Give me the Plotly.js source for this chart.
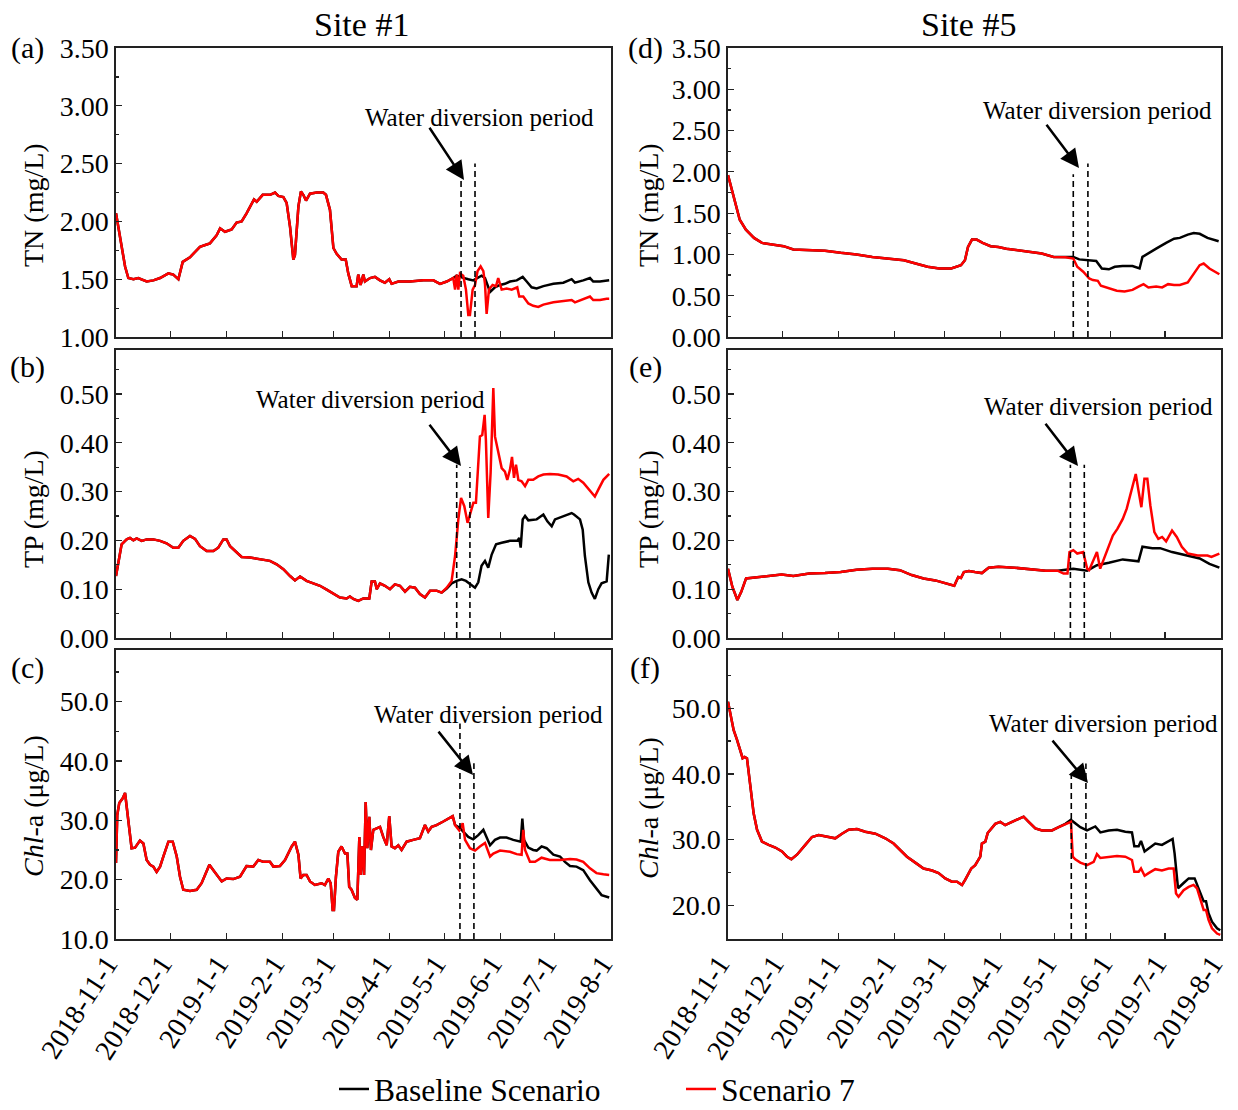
<!DOCTYPE html>
<html>
<head>
<meta charset="utf-8">
<script src="https://cdn.plot.ly/plotly-3.0.1.min.js"></script>
<style>
  html, body { margin: 0; padding: 0; background: #fff; }
  #chart { width: 1238px; height: 1110px; }
</style>
</head>
<body>
<div id="chart"></div>
<script>
// ---------------- DATA (day = days since 2018-11-01) ----------------
const START = Date.UTC(2018, 10, 1);
const monthTickDays = [0, 30, 61, 92, 120, 151, 181, 212, 242, 273];
const monthTickLabels = ['2018-11-1','2018-12-1','2019-1-1','2019-2-1','2019-3-1','2019-4-1','2019-5-1','2019-6-1','2019-7-1','2019-8-1'];

// (a) Site #1 TN
const tn1Day = [0,1.3,3.1,5,6.8,9.6,12.3,16.9,20.6,24.3,28.9,31.6,34.4,36.8,40.8,46.3,50,51.8,55.5,57.4,60.1,63.8,66.5,69.3,72,76.1,77.6,80.9,85,87.7,89.5,92.3,94.1,96,97.8,98.7,100.6,102,103.3,104.8,107,110.7,114.3,115.8,118,119.9,121.7,124.4,126.7,128.1,130,132.7,133.6,134.9,136.4,137.3,140.1,142.8,145.6,148.3,150.7,152,155.7,162.1,169.5,175,178.7,182.4,186,187,187.9,188.8,189.7,191.5,193,194.3,195.2,196.7,198,199.4,201.1,202.6,203.5,204.4,205.7,207.7,209.6,210.8,212.7,215.4,218.2,220,221.3,222.4,224.6,227.4,230.1,232.9,235.7,241.2,246.7,251.3,253.1,257.7,261.4,263.2,266.9,270.6,272];
const tn1S7 = [2.07,1.95,1.75,1.61,1.51,1.50,1.51,1.48,1.49,1.51,1.55,1.54,1.50,1.65,1.69,1.78,1.80,1.81,1.88,1.94,1.91,1.93,1.99,2.00,2.07,2.19,2.17,2.23,2.23,2.25,2.22,2.21,2.16,1.95,1.67,1.71,2.13,2.26,2.23,2.18,2.24,2.25,2.25,2.23,2.10,1.77,1.72,1.67,1.67,1.55,1.44,1.44,1.54,1.45,1.54,1.48,1.51,1.52,1.49,1.47,1.50,1.46,1.48,1.48,1.49,1.49,1.46,1.48,1.51,1.41,1.54,1.41,1.55,1.53,1.41,1.19,1.19,1.41,1.45,1.57,1.61,1.57,1.46,1.20,1.41,1.45,1.44,1.51,1.41,1.42,1.41,1.42,1.43,1.35,1.35,1.29,1.27,1.26,1.28,1.30,1.31,1.32,1.30,1.33,1.35,1.32,1.32,1.33,1.33];
const tn1Split = 186;
const tn1BaseDay = [187.9,189.7,191.5,194.3,197,199.8,201.6,203.5,206.3,209,211.8,214.5,217.3,221,224.3,226.5,229.2,232,235.7,241.2,246.7,251.3,253.1,257.7,261.4,263.2,266.9,272];
const tn1Base = [1.53,1.52,1.51,1.50,1.49,1.51,1.53,1.51,1.39,1.43,1.45,1.46,1.48,1.49,1.52,1.48,1.43,1.42,1.44,1.46,1.47,1.50,1.47,1.49,1.51,1.48,1.48,1.49];

// (b) Site #1 TP
const tp1Day = [0,1.3,3.1,5.9,7.7,9.6,11.4,14.2,16.9,20.6,24.3,27.9,31.6,34.4,37.1,40.8,43.6,46.3,50,53.7,56.4,59.2,61,62.9,65.6,69.3,73.9,77.6,81.3,84.9,88.6,92.3,96,98.7,101.5,105.1,108.8,112.5,116.2,119.9,123.5,127.2,129,130.9,133.6,136.4,139.7,141,142.8,143.8,145.6,148.3,151.1,153.8,156.6,159.4,162.1,164.9,167.6,170.4,173.2,176.8,179.6,182.4,185.1,187,188.8,190.3,192.1,193.9,195.8,197.1,198.5,199.4,200.7,202,203.3,204,205.3,206.6,208.1,209,210.8,212.7,214.5,215.8,217.3,218.4,219.5,220.6,221.9,223.7,225.6,227.4,230.1,232.9,235.7,239.3,243.9,248.5,252.2,254.9,257.7,261.4,264.1,266,268.8,272];
const tp1S7 = [0.127,0.158,0.192,0.202,0.205,0.200,0.204,0.199,0.202,0.202,0.199,0.194,0.185,0.185,0.199,0.209,0.203,0.188,0.178,0.178,0.185,0.202,0.202,0.188,0.178,0.166,0.165,0.163,0.161,0.158,0.151,0.141,0.127,0.118,0.126,0.117,0.112,0.107,0.099,0.090,0.083,0.081,0.085,0.080,0.076,0.081,0.081,0.116,0.116,0.100,0.112,0.107,0.100,0.110,0.107,0.095,0.105,0.103,0.090,0.083,0.097,0.097,0.093,0.103,0.117,0.168,0.243,0.287,0.270,0.236,0.260,0.277,0.277,0.338,0.413,0.416,0.457,0.406,0.246,0.338,0.512,0.413,0.382,0.348,0.341,0.324,0.345,0.371,0.328,0.355,0.324,0.321,0.311,0.324,0.324,0.331,0.335,0.336,0.335,0.331,0.321,0.326,0.318,0.301,0.290,0.304,0.324,0.336];
const tp1Split = 179.6;
const tp1BaseDay = [182.4,185.1,187.9,190.6,193,195.2,198,199.8,201.6,203.5,205.3,207.2,209.6,212.7,217.3,221.3,222.4,223.2,224.3,225.6,227.4,232,235.7,237.9,240.3,242.1,246.7,251.3,252.6,255.9,257.4,258.6,260.5,262.3,264.1,266,267.8,270.6,271.8];
const tp1Base = [0.101,0.112,0.117,0.120,0.117,0.110,0.103,0.114,0.148,0.158,0.144,0.171,0.192,0.195,0.199,0.199,0.205,0.185,0.243,0.250,0.241,0.243,0.253,0.239,0.229,0.243,0.250,0.256,0.253,0.243,0.222,0.168,0.114,0.093,0.080,0.100,0.112,0.116,0.171];

// (c) Site #1 Chl-a
const chl1Day = [0,0.7,1.8,3.7,5,6.8,8.6,10.5,13.2,15.1,16.9,18.8,20.6,22.4,24.3,26.1,28.9,31.3,33.5,35.3,37.1,40.8,44.5,47.2,50,51.5,53.7,55.5,58.3,61,64.7,68.4,72,75.7,78.5,81.3,84.9,86.8,90.4,93.2,96.9,98.7,100.6,101.8,103.3,105.1,107,109.7,113.4,115.2,117.1,118.4,119.5,120.2,121.3,122.6,124.4,126.3,127.6,128.6,129.9,131.8,133.1,134.2,134.9,135.8,136.8,137.7,138.6,139.7,140.6,141.9,143.8,145.6,147.4,149.3,150.7,152,153.8,155.7,157.5,160.3,163.9,167.6,170.4,172.2,174.1,176.8,180.5,183.3,185.7,187,189.3,191.2,192.5,195.2,198,200.7,203.5,206.3,208.1,211.8,217.3,221,223.7,224.6,225.6,228.3,231.1,234.7,239.3,244.9,250.4,254,257.7,261.4,265,268.8,272];
const chl1S7 = [22.8,30.9,32.9,33.7,34.6,30.1,25.3,25.4,26.6,26.1,23.3,22.5,22.2,21.3,22.2,23.9,26.4,26.4,23.9,20.5,18.3,18.1,18.3,19.4,21.6,22.5,21.6,20.8,19.7,20.2,20.1,20.5,22.3,22.2,23.3,23.0,23.0,22.2,22.3,23.3,25.6,26.4,24.2,20.2,20.8,20.8,19.7,19.1,19.4,19.1,20.2,19.4,14.9,14.9,20.5,24.7,25.6,24.4,24.4,18.8,18.3,16.9,16.6,27.2,20.8,25.6,20.8,33.1,25.3,30.6,25.0,28.4,28.7,28.9,27.2,25.8,30.7,25.6,25.3,25.8,25.0,26.4,26.7,27.0,29.2,28.1,28.9,29.2,29.8,30.3,30.7,29.2,28.3,29.5,26.7,25.3,24.9,25.6,26.2,23.9,24.4,24.9,24.7,24.3,24.2,28.4,25.0,23.0,23.0,23.7,23.3,23.3,23.5,23.4,23.0,21.9,21.1,20.9,20.8];
const chl1Split = 187;
const chl1BaseDay = [189.7,191.5,194.3,197,199.8,202.6,204.4,206.3,209,211.8,215.4,219.1,223.2,224.1,225,227.4,230.1,232,234.7,237.5,241.2,244.9,247.6,250.4,254,257.7,261.4,265,267.8,272];
const chl1Base = [28.7,28.1,27.2,26.8,27.5,28.4,27.2,25.8,26.7,27.1,27.1,26.7,26.4,30.3,26.7,25.4,25.0,24.9,25.6,25.3,24.2,23.9,23.0,22.3,22.2,21.6,19.9,18.5,17.4,17.0];

// (d) Site #5 TN
const tn5Day = [0,3.3,6.5,9.9,14.4,18.8,25.3,30.8,36.2,45,53.7,62.4,71.2,79.9,88.6,97.4,103.9,110.5,117,123.6,129,131.2,132.9,135.1,137.7,141,145.4,149.7,154.1,160.6,167.2,173.7,180.3,186.8,191.2,193.4,196.7,200,202.1,204.8,206.5,210.9,215.3,219.6,224,227.3,230.1,232.8,237.1,240.4,243.7,247,250.2,254.6,257.9,261.2,263.4,266.6,272.1];
const tn5S7 = [1.96,1.70,1.42,1.30,1.20,1.14,1.12,1.10,1.06,1.05,1.045,1.02,1.00,0.97,0.95,0.93,0.89,0.85,0.83,0.83,0.87,0.93,1.09,1.18,1.18,1.14,1.10,1.09,1.07,1.05,1.03,1.01,0.97,0.965,0.95,0.85,0.79,0.71,0.69,0.68,0.62,0.59,0.56,0.55,0.57,0.61,0.64,0.60,0.61,0.60,0.64,0.63,0.63,0.66,0.77,0.87,0.89,0.83,0.76];
const tn5Split = 186.8;
const tn5BaseDay = [191.2,194.5,200,203.9,207,210.9,214.2,218.5,224,227.9,229.5,232.8,237.1,242.6,247,250.2,254.6,257.9,261.2,265.5,271.7];
const tn5Base = [0.97,0.94,0.93,0.92,0.83,0.82,0.85,0.86,0.86,0.83,0.97,1.01,1.07,1.14,1.19,1.20,1.24,1.26,1.25,1.20,1.16];

// (e) Site #5 TP
const tp5Day = [0,2.4,5.2,7.4,10,16.6,23.1,29.7,36.2,45,53.7,62.4,71.2,79.9,88.6,95.2,101.7,108.3,114.8,121.4,125.3,127.5,129,130.6,133.4,136.7,140.6,144.3,149.8,158.5,167.2,176,182.5,185.8,188,189.1,191.2,193.4,196.7,198.9,200,202.1,204.3,206.1,208.3,210.9,213.1,215.7,218.6,220.8,223,225.8,227.3,228.9,230.6,232.2,233.9,236.1,238.3,240.4,242.6,245.9,248.5,251.3,254.6,260.1,265.5,267.7,272.1];
const tp5S7 = [0.142,0.105,0.078,0.095,0.122,0.125,0.127,0.130,0.127,0.132,0.133,0.135,0.140,0.142,0.142,0.139,0.129,0.122,0.118,0.112,0.107,0.125,0.123,0.135,0.137,0.135,0.133,0.144,0.146,0.144,0.141,0.138,0.138,0.132,0.132,0.176,0.180,0.173,0.176,0.142,0.139,0.156,0.176,0.142,0.163,0.190,0.210,0.224,0.244,0.265,0.299,0.336,0.302,0.268,0.326,0.326,0.271,0.217,0.203,0.207,0.198,0.220,0.207,0.187,0.173,0.169,0.169,0.166,0.173];
const tp5Split = 182.5;
const tp5BaseDay = [185.8,191.2,198.9,204.3,210.9,218.6,227.3,229.5,235,239.3,245.9,254.6,261.2,266.6,272.1];
const tp5Base = [0.140,0.142,0.138,0.149,0.154,0.161,0.157,0.187,0.184,0.184,0.176,0.169,0.163,0.152,0.144];

// (f) Site #5 Chl-a
const chl5Day = [0,1.3,3.1,5,6.8,8.1,9.2,10.5,12.4,14.2,16.1,18.8,22.5,26.2,29.9,32.7,35.1,38.2,42.8,46.5,50.2,54.8,59.4,63.1,66.8,71.4,76,81.6,87.1,91.7,95.4,99.1,103.7,108.3,113,116.6,120.3,124,126.8,129.6,131.4,132.3,133.6,134.7,136.9,138.4,139.7,140.6,142.5,143.8,145.3,148,150.8,153.5,157.3,161,163.7,166.5,170.2,173.9,179.4,183.1,186.8,189.9,190.9,192.3,195.1,198.8,202.5,204.3,206.2,210.8,215.4,220,223.7,225,227.4,228.7,230.7,232.9,236.6,240.3,244,246.8,248.1,249.5,252.3,255.1,257.8,259.7,261.5,263.4,264.7,266.1,268,270.8,272.6];
const chl5S7 = [51.0,49.2,46.7,45.2,43.7,42.4,42.6,42.4,38.1,34.0,31.5,29.7,29.2,28.8,28.2,27.4,27.0,27.7,29.2,30.4,30.7,30.5,30.2,30.9,31.5,31.6,31.2,30.9,30.2,29.4,28.4,27.4,26.5,25.6,25.3,24.9,24.1,23.6,23.6,23.1,23.9,24.4,24.9,25.6,26.1,26.9,27.4,29.4,29.7,31.0,31.5,32.4,32.7,32.2,32.7,33.2,33.5,32.7,31.7,31.4,31.4,31.9,32.4,32.7,27.4,27.0,26.5,26.1,26.6,27.8,27.2,27.4,27.5,27.4,26.9,25.1,25.1,25.6,24.5,24.9,25.5,25.3,25.6,25.6,21.8,21.3,22.3,22.8,23.1,22.6,21.1,19.3,19.3,17.8,16.5,15.7,15.5];
const chl5Split = 186.8;
const chl5BaseDay = [189.9,192.3,195.1,198.8,201.6,203.4,206.2,210.8,215.4,220,223.7,225,227.4,228.7,230.7,232.9,236.6,240.3,244,246.2,247.3,249.2,252.3,255.1,258.4,260.6,263.4,264.7,266.1,268,270.8,272.6];
const chl5Base = [33.0,32.5,31.9,31.4,31.7,32.0,31.1,31.4,31.5,31.2,31.1,29.0,29.0,29.8,28.2,28.7,29.4,29.2,29.7,30.1,27.9,22.6,23.4,24.1,24.1,22.6,20.6,20.6,18.8,17.5,16.5,16.2];

// Water diversion markers: [day, top value] for the two dashed lines of each panel
const diversionA = [[190.3, 2.37], [198.0, 2.50]];
const diversionB = [[187.9, 0.355], [195.2, 0.35]];
const diversionC = [[189.7, 46.3], [197.4, 39.6]];
const diversionD = [[191.2, 1.97], [199.3, 2.10]];
const diversionE = [[189.6, 0.355], [197.3, 0.355]];
const diversionF = [[190.1, 40.1], [198.2, 41.6]];

// ---------------- HELPERS ----------------
function pad(n) { return (n < 10 ? '0' : '') + n; }
function dayToDate(d) {
  const dt = new Date(START + d * 86400000);
  return dt.getUTCFullYear() + '-' + pad(dt.getUTCMonth() + 1) + '-' + pad(dt.getUTCDate()) +
         ' ' + pad(dt.getUTCHours()) + ':' + pad(dt.getUTCMinutes());
}
const W = 1238, H = 1110;
const FONT = 'Liberation Serif, Times New Roman, serif';
const px = x => x / W;
const py = y => 1 - y / H;

const panels = [
  {id: '',  day: tn1Day,  s7: tn1S7,  split: tn1Split,  bDay: tn1BaseDay,  base: tn1Base,  div: diversionA},
  {id: '2', day: tp1Day,  s7: tp1S7,  split: tp1Split,  bDay: tp1BaseDay,  base: tp1Base,  div: diversionB},
  {id: '3', day: chl1Day, s7: chl1S7, split: chl1Split, bDay: chl1BaseDay, base: chl1Base, div: diversionC},
  {id: '4', day: tn5Day,  s7: tn5S7,  split: tn5Split,  bDay: tn5BaseDay,  base: tn5Base,  div: diversionD},
  {id: '5', day: tp5Day,  s7: tp5S7,  split: tp5Split,  bDay: tp5BaseDay,  base: tp5Base,  div: diversionE},
  {id: '6', day: chl5Day, s7: chl5S7, split: chl5Split, bDay: chl5BaseDay, base: chl5Base, div: diversionF}
];

const yRanges = [[1, 3.5], [0, 0.59], [10, 58.7], [0, 3.5], [0, 0.59], [14.87, 58.87]];
const yDticks = [0.5, 0.1, 10, 0.5, 0.1, 10];
const yMinor = [0.25, 0.05, 5, 0.25, 0.05, 5];
const yFormats = ['.2f', '.2f', '.1f', '.2f', '.2f', '.1f'];

const colX = [[116 / W, 611 / W], [728 / W, 1221 / W]];
const rowY = [[py(337), py(48)], [py(638), py(350)], [py(939), py(650)]];

const traces = [];
const layout = {
  width: W, height: H,
  margin: {l: 0, r: 0, t: 0, b: 0, autoexpand: false},
  paper_bgcolor: '#fff', plot_bgcolor: '#fff',
  font: {family: FONT, color: '#000'},
  showlegend: true,
  legend: {x: px(334), xanchor: 'left', y: py(1089), yanchor: 'middle', orientation: 'h',
           font: {family: FONT, size: 31.5, color: '#000'}, bgcolor: 'rgba(0,0,0,0)', borderwidth: 0},
  legend2: {x: px(681), xanchor: 'left', y: py(1089), yanchor: 'middle', orientation: 'h',
            font: {family: FONT, size: 31.5, color: '#000'}, bgcolor: 'rgba(0,0,0,0)', borderwidth: 0},
  shapes: [], annotations: []
};

panels.forEach((p, i) => {
  const xa = 'x' + p.id, ya = 'y' + p.id;
  const col = i < 3 ? 0 : 1, row = i % 3;
  // baseline = shared part + divergent part
  const bx = [], by = [];
  p.day.forEach((d, k) => { if (d <= p.split) { bx.push(d); by.push(p.s7[k]); } });
  p.bDay.forEach((d, k) => { bx.push(d); by.push(p.base[k]); });
  traces.push({
    type: 'scatter', mode: 'lines', name: 'Baseline Scenario',
    x: bx.map(dayToDate), y: by, xaxis: xa, yaxis: ya,
    line: {color: '#000', width: 2.5}, showlegend: i === 0, legend: 'legend'
  });
  traces.push({
    type: 'scatter', mode: 'lines', name: 'Scenario 7',
    x: p.day.map(dayToDate), y: p.s7, xaxis: xa, yaxis: ya,
    line: {color: '#ff0000', width: 2.5}, showlegend: i === 0, legend: 'legend2'
  });

  const xKey = 'xaxis' + p.id, yKey = 'yaxis' + p.id;
  layout[xKey] = {
    type: 'date', domain: colX[col], anchor: ya,
    range: [dayToDate(0), dayToDate(273)],
    tickvals: monthTickDays.map(dayToDate), ticktext: monthTickLabels,
    showticklabels: row === 2, tickangle: -57,
    ticklabelshift: -9, ticklabelstandoff: -4,
    tickfont: {family: FONT, size: 28, color: '#000'},
    ticks: 'inside', ticklen: 6, tickwidth: 1.2, tickcolor: '#222',
    showline: true, linecolor: '#222', linewidth: 1.6, mirror: true,
    showgrid: false, zeroline: false
  };
  layout[yKey] = {
    domain: rowY[row], anchor: xa,
    range: yRanges[i], dtick: yDticks[i], tick0: 0, tickformat: yFormats[i],
    tickfont: {family: FONT, size: 28, color: '#000'},
    ticks: 'inside', ticklen: 6, tickwidth: 1.2, tickcolor: '#222',
    minor: {dtick: yMinor[i], ticks: 'inside', ticklen: 3, tickwidth: 1.2, tickcolor: '#222'},
    showline: true, linecolor: '#222', linewidth: 1.6, mirror: true,
    showgrid: false, zeroline: false
  };

  p.div.forEach(([d, top]) => {
    layout.shapes.push({
      type: 'line', xref: xa, yref: ya,
      x0: dayToDate(d), x1: dayToDate(d), y0: yRanges[i][0], y1: top,
      line: {color: '#000', width: 1.6, dash: '6px,4px'}
    });
  });
});

// Text annotations (positions in page pixels)
const titleFont = {family: FONT, size: 34, color: '#000'};
const letterFont = {family: FONT, size: 30, color: '#000'};
const axisTitleFont = {family: FONT, size: 28, color: '#000'};
const noteFont = {family: FONT, size: 25, color: '#000'};

function textAnn(text, x, y, font, extra) {
  layout.annotations.push(Object.assign({
    text: text, xref: 'paper', yref: 'paper', x: px(x), y: py(y),
    xanchor: 'center', yanchor: 'middle', showarrow: false, font: font
  }, extra || {}));
}
textAnn('Site #1', 361, 25, titleFont);
textAnn('Site #5', 968, 25, titleFont);

const letters = [['(a)', 27, 48], ['(b)', 27, 367], ['(c)', 27, 668], ['(d)', 645, 48], ['(e)', 645, 367], ['(f)', 645, 668]];
letters.forEach(l => textAnn(l[0], l[1], l[2], letterFont));

const yTitles = [['TN (mg/L)', 33, 205], ['TP (mg/L)', 33, 509], ['<i>Chl</i>-a (μg/L)', 33, 806],
                 ['TN (mg/L)', 648, 205], ['TP (mg/L)', 648, 509], ['<i>Chl</i>-a (μg/L)', 648, 808]];
yTitles.forEach(t => textAnn(t[0], t[1], t[2], axisTitleFont, {textangle: -90}));

const notes = [[479, 117], [370.5, 399], [488.5, 714], [1097, 111], [1098.5, 406], [1103, 723]];
notes.forEach(n => textAnn('Water diversion period', n[0], n[1], noteFont));

// arrows: [tailX, tailY, tipX, tipY] in page pixels
const arrows = [[429, 127, 464, 180], [429, 424, 461, 466], [438, 731, 473, 775],
                [1046, 124, 1079, 168], [1045, 423, 1078, 466], [1052, 740, 1088, 783]];
arrows.forEach(a => {
  layout.annotations.push({
    text: ' ', font: {size: 1}, borderpad: 0,
    xref: 'paper', yref: 'paper', x: px(a[2]), y: py(a[3]),
    axref: 'pixel', ayref: 'pixel', ax: a[0] - a[2], ay: a[1] - a[3],
    showarrow: true, arrowhead: 2, arrowsize: 1.5, arrowwidth: 2.5, arrowcolor: '#000', standoff: 0
  });
});

Plotly.newPlot('chart', traces, layout, {staticPlot: true, displayModeBar: false});
</script>
</body>
</html>
